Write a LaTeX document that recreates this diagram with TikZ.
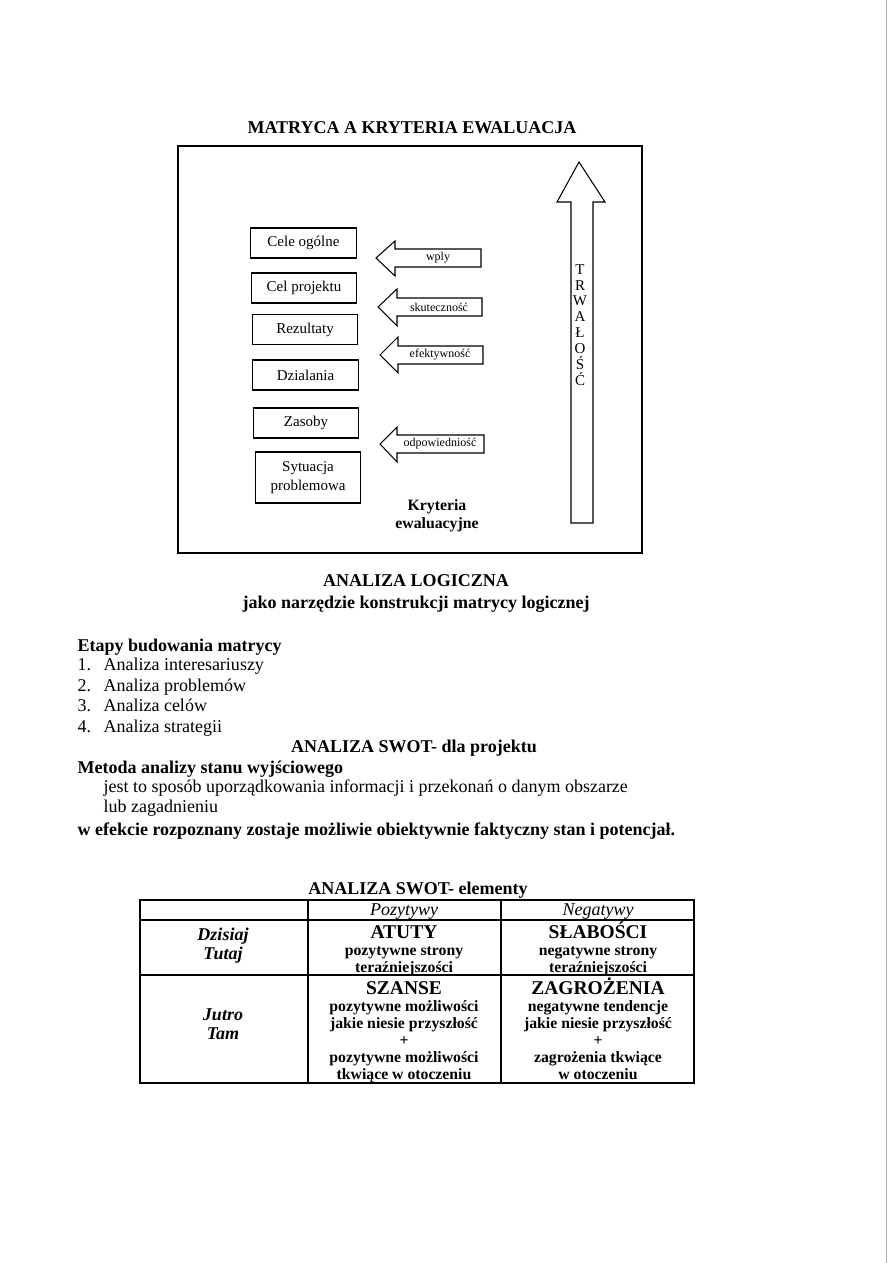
\documentclass[tikz,border=0pt]{standalone}
\usepackage{fontspec}
\setmainfont{Liberation Serif}
\usetikzlibrary{positioning}

\begin{document}
\begin{tikzpicture}[x=0.6666pt, y=-0.6666pt, line width=0.7pt,
  txt/.style={inner sep=0pt, anchor=base west, font=\fontsize{12}{14}\selectfont},
  head/.style={inner sep=0pt, anchor=base, font=\fontsize{12}{14}\selectfont\bfseries},
  box/.style={draw, inner sep=0pt, minimum width=70.5pt, minimum height=20pt,
              align=center, font=\fontsize{10}{13}\selectfont},
  blk/.style={draw, line join=miter},
  crit/.style={inner sep=0pt, font=\fontsize{8}{9}\selectfont},
  cell/.style={inner sep=0pt, anchor=north, align=center, font=\fontsize{10.5}{11.3}\selectfont\bfseries},
  side/.style={inner sep=0pt, align=center, font=\fontsize{12}{13}\selectfont\bfseries\itshape},
  colhead/.style={inner sep=0pt, anchor=base, font=\fontsize{12}{14}\selectfont\itshape}]
  \fill[white] (0,0) rectangle (893,1263);
  \useasboundingbox (0,0) rectangle (893,1263);
  \draw[gray!60, line width=0.4pt] (886,0) -- (886,1263);

  % matryca
  \node[head] (title) at (412,134) {MATRYCA A KRYTERIA EWALUACJA};
  \draw (178,146) rectangle (642,553);
  \node[box] (cele) at (303.5,243) {Cele ogólne};
  \node[box] (celproj) at (304,288) {Cel projektu};
  \node[box] (rez) at (305,329.5) {Rezultaty};
  \node[box] (dzial) at (305.5,375) {Dzialania};
  \node[box] (zasoby) at (306,423) {Zasoby};
  \node[box, minimum height=34pt] (sytuacja) at (308,477.5) {Sytuacja\\problemowa};

  % kryteria
  \draw[blk] (376,258) -- (395,241) -- (395,249) -- (481,249) -- (481,267) -- (395,267) -- (395,276) -- cycle;
  \node[crit] (wply) at (438,258) {wply};
  \draw[blk] (378,307) -- (397,289) -- (397,298) -- (482,298) -- (482,316) -- (397,316) -- (397,326) -- cycle;
  \node[crit] (skut) at (439,307) {skuteczność};
  \draw[blk] (380,355) -- (398,337) -- (398,346) -- (483,346) -- (483,364) -- (398,364) -- (398,373) -- cycle;
  \node[crit] (efekt) at (440,355) {efektywność};
  \draw[blk] (380,444) -- (397,427) -- (397,435) -- (484,435) -- (484,453) -- (397,453) -- (397,462) -- cycle;
  \node[crit] (odpow) at (440,444) {odpowiedniość};
  \node[align=center, inner sep=0pt, font=\fontsize{10.5}{12}\selectfont\bfseries] (kryt) at (437,516) {Kryteria\\ewaluacyjne};

  % trwalosc
  \draw[blk] (579,162) -- (605,202) -- (593,202) -- (593,523) -- (571,523) -- (571,202) -- (557,202) -- cycle;
  \node[align=center, inner sep=0pt, font=\fontsize{10}{10.6}\selectfont] (trwal) at (580,325) {T\\R\\W\\A\\Ł\\O\\Ś\\Ć};

  % analiza logiczna
  \node[head] (logiczna) at (416,586) {ANALIZA LOGICZNA};
  \node[head] (jako) at (416,608) {jako narzędzie konstrukcji matrycy logicznej};
  \node[txt, font=\fontsize{12}{14}\selectfont\bfseries] (etapy) at (77,651) {Etapy budowania matrycy};
  \node[txt] (n1) at (77,670) {1.};
  \node[txt] (e1) at (103,670) {Analiza interesariuszy};
  \node[txt] (n2) at (77,691) {2.};
  \node[txt] (e2) at (103,691) {Analiza problemów};
  \node[txt] (n3) at (77,711) {3.};
  \node[txt] (e3) at (103,711) {Analiza celów};
  \node[txt] (n4) at (77,732) {4.};
  \node[txt] (e4) at (103,732) {Analiza strategii};

  % swot
  \node[head] (swot) at (414,752) {ANALIZA SWOT- dla projektu};
  \node[txt, font=\fontsize{12}{14}\selectfont\bfseries] (metoda) at (77,773) {Metoda analizy stanu wyjściowego};
  \node[txt] (jest) at (103,792) {jest to sposób uporządkowania informacji i przekonań o danym obszarze};
  \node[txt] (lub) at (103,812) {lub zagadnieniu};
  \node[txt, font=\fontsize{12}{14}\selectfont\bfseries] (wefekcie) at (77,835) {w efekcie rozpoznany zostaje możliwie obiektywnie faktyczny stan i potencjał.};

  % tabela
  \node[head] (elem) at (418,894) {ANALIZA SWOT- elementy};
  \draw (140,900) rectangle (694,1083);
  \draw (308,900) -- (308,1083);
  \draw (501,900) -- (501,1083);
  \draw (140,920) -- (694,920);
  \draw (140,975) -- (694,975);
  \node[colhead] (poz) at (404,915) {Pozytywy};
  \node[colhead] (neg) at (598,915) {Negatywy};
  \node[side] (dzis) at (223,945.5) {Dzisiaj\\Tutaj};
  \node[side] (jutro) at (223,1024) {Jutro\\Tam};
  \node[cell] (atuty) at (404,921) {{\fontsize{13}{13}\selectfont\vphantom{Ś}ATUTY}\\pozytywne strony\\teraźniejszości};
  \node[cell] (slab) at (598,921) {{\fontsize{13}{13}\selectfont\vphantom{Ś}SŁABOŚCI}\\negatywne strony\\teraźniejszości};
  \node[cell] (szanse) at (404,977) {{\fontsize{13}{13}\selectfont\vphantom{Ś}SZANSE}\\pozytywne możliwości\\jakie niesie przyszłość\\+\\pozytywne możliwości\\tkwiące w otoczeniu};
  \node[cell] (zagr) at (598,977) {{\fontsize{13}{13}\selectfont\vphantom{Ś}ZAGROŻENIA}\\negatywne tendencje\\jakie niesie przyszłość\\+\\zagrożenia tkwiące\\w otoczeniu};
\end{tikzpicture}
\end{document}
